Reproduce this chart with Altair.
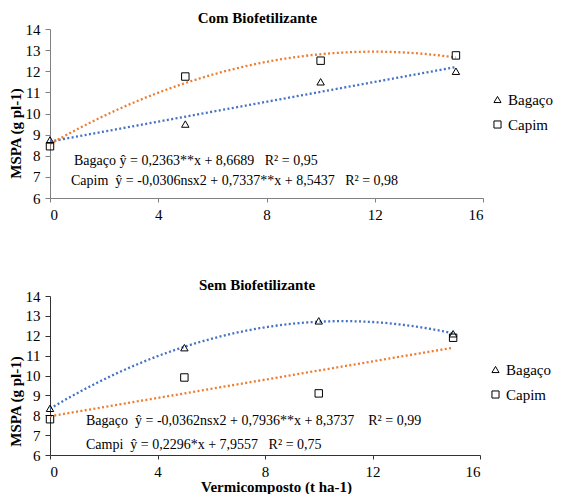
import altair as alt
import pandas as pd

# ---- data ----
x_vals = [0, 5, 10, 15]
com_bagaco = [8.75, 9.5, 11.5, 12.0]
com_capim = [8.45, 11.75, 12.5, 12.75]
sem_bagaco = [8.35, 11.4, 12.75, 12.1]
sem_capim = [7.8, 9.9, 9.1, 11.9]
series_names = ["Bagaço", "Capim"]
panel_titles = ["Com Biofetilizante", "Sem Biofetilizante"]
x_ticks = [0, 4, 8, 12, 16]
y_ticks = [6, 7, 8, 9, 10, 11, 12, 13, 14]
NB = "\u00a0"
com_eq = ["Bagaço ŷ = 0,2363**x + 8,6689" + NB * 3 + "R² = 0,95",
          "Capim" + NB * 2 + "ŷ = -0,0306nsx2 + 0,7337**x + 8,5437" + NB * 3 + "R² = 0,98"]
sem_eq = ["Bagaço" + NB * 2 + "ŷ = -0,0362nsx2 + 0,7936**x + 8,3737" + NB * 4 + "R² = 0,99",
          "Campi" + NB * 2 + "ŷ = 0,2296*x + 7,9557" + NB * 3 + "R² = 0,75"]

FONT = "Liberation Serif"
BLUE = "#4472C4"
ORANGE = "#ED7D31"


def panel(bag, cap, title, eq, methods, width, height, xtitle, axis_color,
          title_dx, leg_x, leg_y, eq_pos, ytitle_y):
    df = pd.DataFrame({"x": x_vals * 2, "y": bag + cap,
                       "serie": [series_names[0]] * 4 + [series_names[1]] * 4})
    base = alt.Chart(df)
    x_axis_kw = dict(values=x_ticks, grid=False, domainColor=axis_color, tickColor=axis_color,
                     tickSize=4, labelPadding=5, labelFont=FONT, labelFontSize=15,
                     labelColor="black", labelAngle=0)
    if xtitle:
        x_axis = alt.Axis(title=xtitle, titleFont=FONT, titleFontSize=15, titleFontWeight="bold",
                          titleColor="black", titlePadding=0, titleX=226, titleAnchor="start",
                          titleAlign="center", **x_axis_kw)
    else:
        x_axis = alt.Axis(title=None, **x_axis_kw)
    xenc = alt.X("x:Q", scale=alt.Scale(domain=[0, 16], nice=False, zero=False), axis=x_axis)
    yenc = alt.Y("y:Q", scale=alt.Scale(domain=[6, 14], nice=False, zero=False),
                 axis=alt.Axis(values=y_ticks, grid=False, domainColor=axis_color,
                               tickColor=axis_color, tickSize=5, labelPadding=5,
                               labelFont=FONT, labelFontSize=15, labelColor="black",
                               title="MSPA (g pl-1)", titleFont=FONT, titleFontSize=15,
                               titleFontWeight="bold", titleColor="black",
                               titlePadding=2, titleY=ytitle_y, titleAlign="center"))
    layers = []
    for name, method, color in zip(series_names, methods, [BLUE, ORANGE]):
        reg_kw = dict(method=method)
        if method == "poly":
            reg_kw["order"] = 2
        layers.append(
            base.transform_filter(alt.datum.serie == name)
            .transform_regression("x", "y", **reg_kw)
            .mark_line(color=color, strokeDash=[2, 2.4], strokeWidth=2.3)
            .encode(x=xenc, y=yenc)
        )
    layers.append(
        base.mark_point(filled=False, color="black", strokeWidth=1, size=55, opacity=1)
        .encode(x=xenc, y=yenc,
                shape=alt.Shape("serie:N",
                                scale=alt.Scale(domain=series_names, range=["triangle-up", "square"]),
                                legend=alt.Legend(title=None, orient="none", legendX=leg_x,
                                                  legendY=leg_y, padding=0, labelFont=FONT,
                                                  labelFontSize=15, labelColor="black",
                                                  symbolSize=50, symbolStrokeColor="black",
                                                  symbolFillColor="transparent",
                                                  symbolStrokeWidth=1, rowPadding=9,
                                                  labelOffset=3)))
    )
    for txt, (px, py) in zip(eq, eq_pos):
        layers.append(
            alt.Chart(alt.Data(values=[{"t": txt}]))
            .mark_text(align="left", baseline="middle", font=FONT, fontSize=14, color="black")
            .encode(text="t:N", x=alt.value(px), y=alt.value(py))
        )
    return alt.layer(*layers).properties(
        width=width, height=height,
        title=alt.TitleParams(title, font=FONT, fontSize=15, fontWeight="bold", color="black",
                              anchor="middle", frame="group", dx=title_dx, offset=-4),
    ).resolve_scale(shape="independent")


top = panel(com_bagaco, com_capim, panel_titles[0], com_eq, ["linear", "poly"], 433, 169,
            None, "#808080", -9, 440, 63, [(24, 132), (21, 152)], 104)
bottom = panel(sem_bagaco, sem_capim, panel_titles[1], sem_eq, ["poly", "linear"], 430, 159,
               "Vermicomposto (t ha-1)", "#333333", -8, 438, 66, [(36, 125), (36, 149)], 105)

chart = alt.vconcat(top, bottom, spacing=56).resolve_scale(shape="independent").resolve_legend(
    shape="independent"
).configure(
    padding={"left": 0, "top": 3, "right": 0, "bottom": 0},
    background="white",
    font=FONT,
).configure_view(stroke=None)

chart.save("out.html", embed_options={"renderer": "svg", "actions": False})
